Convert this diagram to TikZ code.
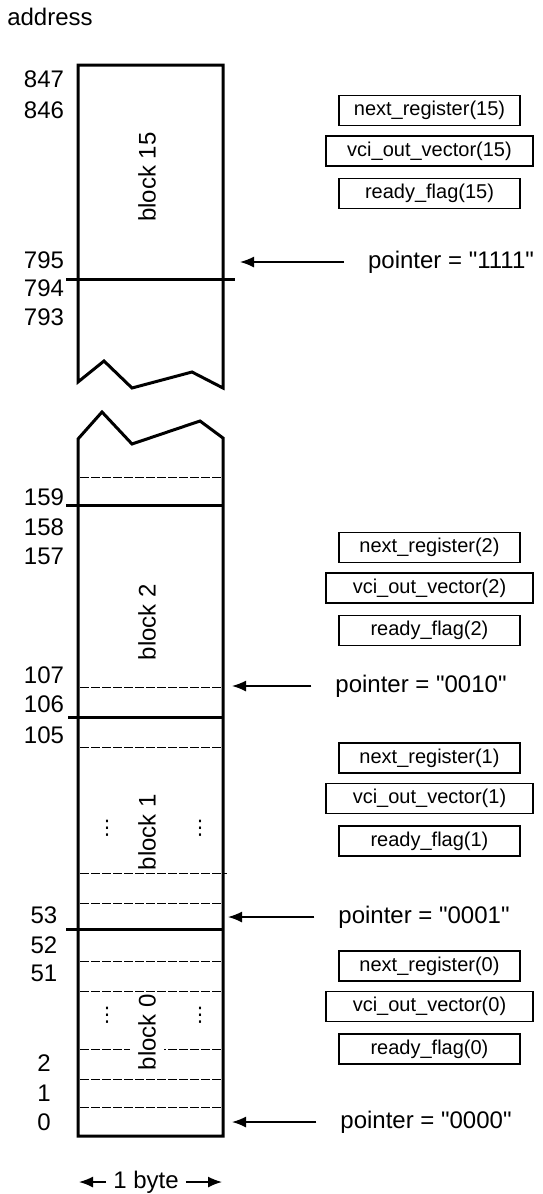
\documentclass[tikz,border=0pt]{standalone}
\usepackage{fontspec}
\setmainfont{Liberation Sans}[Ligatures=TeXOff]
\newfontfamily\symfont{DejaVu Sans}
\usetikzlibrary{positioning,arrows.meta}

\tikzset{
    mainfont/.style={font=\fontsize{12}{14}\selectfont},
    addr/.style={mainfont, inner sep=0pt},
    regbox/.style={draw, line width=0.75pt, font=\fontsize{10}{12}\selectfont, minimum height=15pt, inner sep=1pt},
    ptrlabel/.style={mainfont, inner xsep=4pt, outer xsep=8pt},
    blocklabel/.style={mainfont, rotate=90, fill=white, inner xsep=1pt, inner ysep=4pt},
    ptrarrow/.style={-{Latex[length=7pt,width=5.5pt]}, line width=0.75pt},
    wall/.style={line width=1.5pt},
    byteline/.style={dash pattern=on 4.5pt off 1pt, line width=0.5pt},
    dotsmark/.style={font=\symfont\fontsize{10}{12}\selectfont, inner sep=0pt}
}

\begin{document}
\begin{tikzpicture}[x=0.5pt, y=-0.5pt, line join=miter]
    \useasboundingbox (0,0) rectangle (542,1194);

    % ==========================================
    % 1. Colonna di memoria (parte alta e bassa)
    % ==========================================
    \draw[wall] (78,382) -- (78,65) -- (223,65) -- (223,388)
        -- (192,372) -- (132,388) -- (104,361) -- cycle;
    \draw[wall] (78,439) -- (78,1136) -- (223,1136) -- (223,438)
        -- (200,421) -- (132,444) -- (102,412) -- cycle;

    % confini tra blocchi
    \draw[wall] (66,279) -- (235,279);
    \foreach \y/\x in {505/66, 717/68, 929/66}
        \draw[wall] (\x,\y) -- (223,\y);

    % confini tra byte
    \foreach \y in {477,687,747,903,961,991,1049,1079,1107}
        \draw[byteline] (80,\y) -- (222,\y);
    \draw[byteline] (80,873) -- (227,873);

    % ==========================================
    % 2. Etichette dei blocchi
    % ==========================================
    \node[blocklabel] (blk15) at (147,177) {block 15};
    \node[blocklabel] (blk2) at (147,622) {block 2};
    \node[blocklabel] (blk1) at (147,832) {block 1};
    \node[blocklabel] (blk0) at (147,1032) {block 0};

    \foreach \x/\y [count=\i] in {107/828, 200/828, 107/1015, 200/1015}
        \node[dotsmark] (dots\i) at (\x,\y) {⋮};

    % ==========================================
    % 3. Indirizzi
    % ==========================================
    \node[mainfont] (addrtitle) at (50,17) {address};
    \foreach \a/\y in {847/79, 846/110, 795/260, 794/288, 793/317,
                       159/497, 158/527, 157/556, 107/675, 106/704, 105/735,
                       53/915, 52/945, 51/973, 2/1063, 1/1093, 0/1122}
        \node[addr] (a\a) at (44,\y) {\a};

    % ==========================================
    % 4. Registri di ogni blocco
    % ==========================================
    \foreach \g/\y in {15/110.5, 2/547.5, 1/758, 0/966} {
        \node[regbox, minimum width=90.5pt] (next\g) at (429.5,\y) {next\_register(\g)};
        \node[regbox, minimum width=103.5pt, below=4.5pt of next\g] (vci\g) {vci\_out\_vector(\g)};
        \node[regbox, minimum width=90.5pt, below=5.5pt of vci\g] (ready\g) {ready\_flag(\g)};
    }

    % ==========================================
    % 5. Puntatori
    % ==========================================
    \foreach \v/\x/\y/\t in {1111/451/262/240, 0010/421/686/232, 0001/424/917/228, 0000/426/1122/232} {
        \node[ptrlabel] (p\v) at (\x,\y) {pointer = "\v"};
        \coordinate (tip\v) at (\t,\y);
        \draw[ptrarrow] (p\v.west) -- (tip\v);
    }

    % larghezza di un byte
    \node[mainfont] (byte) at (146,1182) {1 byte};
    \coordinate (byteL) at (79,1182);
    \coordinate (byteR) at (222,1182);
    \draw[ptrarrow] (byte.west) -- (byteL);
    \draw[ptrarrow] (byte.east) -- (byteR);

\end{tikzpicture}
\end{document}
